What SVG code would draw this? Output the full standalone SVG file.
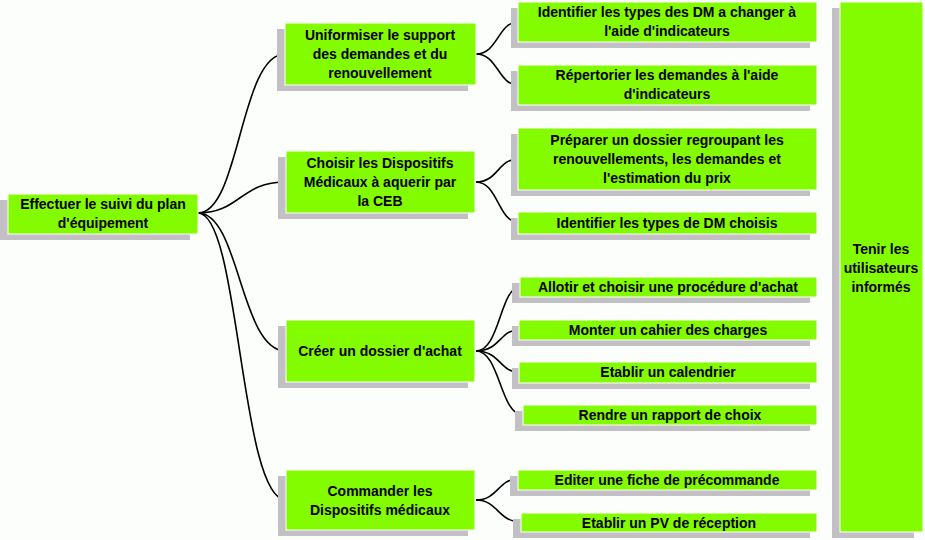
<svg xmlns="http://www.w3.org/2000/svg" width="925" height="540" viewBox="0 0 925 540">
<style>
.s{fill:#c2c0c5}
.b{fill:#84fc00;stroke:#fff;stroke-width:1}
text{font-family:"Liberation Sans",Arial,sans-serif;font-weight:bold;font-size:14px;fill:#000;text-anchor:middle}
.c path{fill:none;stroke:#000;stroke-width:1.6}
</style>
<rect width="925" height="540" fill="#fcfefc"/>
<g class="c">
<path d="M198 213 C240 213 240 54 285 54"/>
<path d="M198 213 C240 213 240 182 286 182"/>
<path d="M198 213 C240 213 240 351 286 351"/>
<path d="M198 213 C240 213 240 500 286 500"/>
<path d="M476 54 C498 54 498 22 518 22"/>
<path d="M476 54 C498 54 498 85 518 85"/>
<path d="M476 182 C498 182 498 159 518 159"/>
<path d="M476 182 C498 182 498 222 518 222"/>
<path d="M476 351 C500 351 500 287 520 287"/>
<path d="M476 351 C500 351 500 330 518 330"/>
<path d="M476 351 C500 351 500 372 518 372"/>
<path d="M476 351 C500 351 500 415 523 415"/>
<path d="M476 500 C498 500 498 479 518 479"/>
<path d="M476 500 C498 500 498 522 521 522"/>
</g>
<g id="root"><rect class="s" x="0" y="200" width="190" height="40"/><rect class="b" x="8" y="194" width="190" height="40"/><text x="103" y="209">Effectuer le suivi du plan</text><text x="103" y="228">d'équipement</text></g>
<g id="n1"><rect class="s" x="277" y="29" width="191" height="62"/><rect class="b" x="285" y="23" width="191" height="62"/><text x="380" y="40">Uniformiser le support</text><text x="380" y="59">des demandes et du</text><text x="380" y="78">renouvellement</text></g>
<g id="n2"><rect class="s" x="278" y="157" width="190" height="62"/><rect class="b" x="286" y="151" width="189" height="62"/><text x="380" y="168">Choisir les Dispositifs</text><text x="380" y="187">Médicaux à aquerir par</text><text x="380" y="206">la CEB</text></g>
<g id="n3"><rect class="s" x="278" y="326" width="190" height="62"/><rect class="b" x="286" y="320" width="189" height="62"/><text x="380" y="356">Créer un dossier d'achat</text></g>
<g id="n4"><rect class="s" x="278" y="476" width="190" height="60"/><rect class="b" x="286" y="470" width="189" height="60"/><text x="380" y="496">Commander les</text><text x="380" y="515">Dispositifs médicaux</text></g>
<g id="a1"><rect class="s" x="511" y="8" width="299" height="40"/><rect class="b" x="518" y="2" width="299" height="40"/><text x="667" y="17">Identifier les types des DM a changer à</text><text x="667" y="36">l'aide d'indicateurs</text></g>
<g id="a2"><rect class="s" x="511" y="71" width="299" height="40"/><rect class="b" x="518" y="65" width="299" height="40"/><text x="667" y="80">Répertorier les demandes à l'aide</text><text x="667" y="99">d'indicateurs</text></g>
<g id="b1"><rect class="s" x="511" y="134" width="299" height="62"/><rect class="b" x="518" y="128" width="299" height="62"/><text x="667" y="145">Préparer un dossier regroupant les</text><text x="667" y="164">renouvellements, les demandes et</text><text x="667" y="183">l'estimation du prix</text></g>
<g id="b2"><rect class="s" x="511" y="218" width="299" height="22"/><rect class="b" x="518" y="212" width="299" height="22"/><text x="667" y="228">Identifier les types de DM choisis</text></g>
<g id="c1"><rect class="s" x="512" y="283" width="298" height="20"/><rect class="b" x="520" y="277" width="297" height="20"/><text x="668" y="292">Allotir et choisir une procédure d'achat</text></g>
<g id="c2"><rect class="s" x="512" y="326" width="298" height="20"/><rect class="b" x="519" y="320" width="298" height="20"/><text x="668" y="335">Monter un cahier des charges</text></g>
<g id="c3"><rect class="s" x="512" y="368" width="298" height="21"/><rect class="b" x="519" y="362" width="298" height="21"/><text x="668" y="377">Etablir un calendrier</text></g>
<g id="c4"><rect class="s" x="515" y="411" width="295" height="20"/><rect class="b" x="523" y="405" width="294" height="20"/><text x="670" y="420">Rendre un rapport de choix</text></g>
<g id="d1"><rect class="s" x="510" y="476" width="300" height="20"/><rect class="b" x="518" y="470" width="299" height="20"/><text x="667" y="485">Editer une fiche de précommande</text></g>
<g id="d2"><rect class="s" x="513" y="519" width="297" height="19"/><rect class="b" x="521" y="513" width="296" height="19"/><text x="669" y="528">Etablir un PV de réception</text></g>
<g id="tenir"><rect class="s" x="832" y="8" width="82" height="530"/><rect class="b" x="840" y="2" width="83" height="530"/><text x="881" y="254">Tenir les</text><text x="881" y="273">utilisateurs</text><text x="881" y="292">informés</text></g>
</svg>
